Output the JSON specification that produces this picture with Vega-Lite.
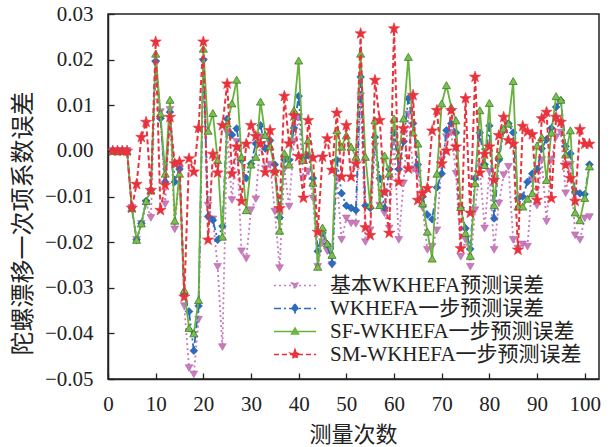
{
"$schema":"https://vega.github.io/schema/vega-lite/v6.json",
"width":491,"height":365,
"autosize":{"type":"none"},
"padding":{"left":108,"top":14,"right":12,"bottom":68},
"background":"white",
"config":{
 "view":{"stroke":"#222","strokeWidth":1.5},
 "axis":{"grid":false,"domainColor":"#222","domainWidth":1.5,"tickColor":"#222","tickWidth":1.3,"tickSize":-6,
  "labelFont":"Liberation Serif","labelFontSize":21,"labelColor":"#222",
  "titleFont":"Noto Sans CJK SC","titleFontWeight":"normal","titleColor":"#222"}
},
"data":{"values":[
{"x":1,"p":0,"b":0,"g":0,"r":0},
{"x":2,"p":0,"b":0,"g":0,"r":0},
{"x":3,"p":0,"b":0,"g":0,"r":0},
{"x":4,"p":0,"b":0,"g":0,"r":0},
{"x":5,"p":-0.0125,"b":-0.0125,"g":-0.0125,"r":-0.0125},
{"x":6,"p":-0.0195,"b":-0.0195,"g":-0.0195,"r":-0.0073},
{"x":7,"p":-0.016,"b":-0.0159,"g":-0.0159,"r":0.003},
{"x":8,"p":-0.0115,"b":-0.011,"g":-0.011,"r":0.0063},
{"x":9,"p":-0.0147,"b":-0.0086,"g":-0.0086,"r":-0.0086},
{"x":10,"p":0.019,"b":0.0197,"g":0.0213,"r":0.0239},
{"x":11,"p":0.0085,"b":0.0071,"g":0.0082,"r":-0.013},
{"x":12,"p":-0.0117,"b":-0.0068,"g":-0.005,"r":-0.0075},
{"x":13,"p":0.009,"b":0.0085,"g":0.0112,"r":0.0074},
{"x":14,"p":-0.0172,"b":-0.0068,"g":-0.0153,"r":-0.0028},
{"x":15,"p":-0.004,"b":-0.004,"g":-0.005,"r":-0.0024},
{"x":16,"p":-0.034,"b":-0.0315,"g":-0.0305,"r":-0.032},
{"x":17,"p":-0.0476,"b":-0.0352,"g":-0.0388,"r":-0.0017},
{"x":18,"p":-0.049,"b":-0.0438,"g":-0.04,"r":-0.0046},
{"x":19,"p":-0.037,"b":-0.034,"g":-0.0327,"r":0.005},
{"x":20,"p":0.0195,"b":0.02,"g":0.0224,"r":0.0239},
{"x":21,"p":-0.012,"b":-0.0144,"g":0.0044,"r":-0.0195},
{"x":22,"p":-0.015,"b":-0.0152,"g":0.0083,"r":-0.0007},
{"x":23,"p":-0.0254,"b":-0.0195,"g":-0.002,"r":-0.0048},
{"x":24,"p":-0.043,"b":-0.0165,"g":-0.0188,"r":0.0056},
{"x":25,"p":0.004,"b":0.007,"g":0.006,"r":0.0147},
{"x":26,"p":-0.0108,"b":0.0035,"g":0.0104,"r":-0.005},
{"x":27,"p":0.002,"b":0.0049,"g":0.0156,"r":0.0009},
{"x":28,"p":-0.022,"b":-0.002,"g":-0.0013,"r":-0.011},
{"x":29,"p":-0.0236,"b":-0.006,"g":-0.013,"r":0.0015},
{"x":30,"p":-0.013,"b":-0.0028,"g":-0.003,"r":0.0056},
{"x":31,"p":-0.0106,"b":0.0016,"g":-0.0013,"r":0.0032},
{"x":32,"p":0.003,"b":0.0056,"g":0.0108,"r":0.0016},
{"x":33,"p":-0.004,"b":0.0005,"g":0.0035,"r":-0.0047},
{"x":34,"p":-0.003,"b":0.0023,"g":0.001,"r":0.0045},
{"x":35,"p":-0.0133,"b":-0.003,"g":-0.004,"r":-0.0046},
{"x":36,"p":-0.0257,"b":-0.0146,"g":-0.0175,"r":-0.0126},
{"x":37,"p":-0.004,"b":-0.002,"g":-0.0005,"r":0.012},
{"x":38,"p":-0.0122,"b":-0.002,"g":-0.003,"r":0.0016},
{"x":39,"p":0.002,"b":0.005,"g":0.0089,"r":0.0077},
{"x":40,"p":0.0074,"b":0.012,"g":0.0198,"r":-0.0012},
{"x":41,"p":-0.006,"b":-0.0015,"g":-0.002,"r":-0.0103},
{"x":42,"p":-0.0045,"b":-0.001,"g":0.0023,"r":0.0067},
{"x":43,"p":-0.0104,"b":-0.006,"g":-0.007,"r":-0.0015},
{"x":44,"p":-0.0254,"b":-0.022,"g":-0.0254,"r":-0.0178},
{"x":45,"p":-0.02,"b":-0.018,"g":-0.0168,"r":-0.0013},
{"x":46,"p":-0.022,"b":-0.0205,"g":-0.0203,"r":0.0027},
{"x":47,"p":-0.025,"b":-0.0247,"g":-0.0228,"r":-0.0042},
{"x":48,"p":-0.006,"b":-0.002,"g":0.0045,"r":0.0083},
{"x":49,"p":-0.0195,"b":-0.0093,"g":0.0009,"r":-0.0057},
{"x":50,"p":-0.0148,"b":-0.012,"g":0.0034,"r":0.0056},
{"x":51,"p":-0.0159,"b":-0.0125,"g":0.0009,"r":-0.0057},
{"x":52,"p":-0.016,"b":-0.013,"g":-0.0013,"r":-0.0028},
{"x":53,"p":0.012,"b":0.0162,"g":0.0213,"r":0.0257},
{"x":54,"p":-0.02,"b":-0.012,"g":-0.0013,"r":-0.0168},
{"x":55,"p":-0.0174,"b":-0.0125,"g":-0.0119,"r":-0.0185},
{"x":56,"p":0.001,"b":0.003,"g":0.0067,"r":0.0155},
{"x":57,"p":-0.012,"b":-0.006,"g":-0.0119,"r":0.0067},
{"x":58,"p":-0.0137,"b":-0.0125,"g":-0.001,"r":-0.009},
{"x":59,"p":-0.017,"b":-0.004,"g":-0.005,"r":-0.018},
{"x":60,"p":0.002,"b":0.004,"g":0.0071,"r":0.0268},
{"x":61,"p":-0.0195,"b":-0.004,"g":-0.001,"r":-0.0068},
{"x":62,"p":-0.0071,"b":0.002,"g":0.0071,"r":0.0049},
{"x":63,"p":0.008,"b":0.0115,"g":0.0206,"r":-0.0039},
{"x":64,"p":-0.004,"b":0.006,"g":0.004,"r":0.0122},
{"x":65,"p":-0.005,"b":-0.003,"g":0.0016,"r":-0.0108},
{"x":66,"p":-0.0125,"b":-0.01,"g":-0.0115,"r":-0.0093},
{"x":67,"p":-0.0217,"b":-0.014,"g":-0.0177,"r":-0.0082},
{"x":68,"p":-0.021,"b":-0.015,"g":-0.0236,"r":0.0044},
{"x":69,"p":-0.0174,"b":-0.008,"g":-0.005,"r":0.0089},
{"x":70,"p":-0.002,"b":-0.005,"g":0.0104,"r":-0.0028},
{"x":71,"p":0.003,"b":0.0045,"g":0.0144,"r":0.0},
{"x":72,"p":0.004,"b":0.006,"g":0.0096,"r":0.0089},
{"x":73,"p":-0.005,"b":0.004,"g":0.0067,"r":0.0009},
{"x":74,"p":-0.0232,"b":-0.0125,"g":-0.0123,"r":-0.0214},
{"x":75,"p":-0.0195,"b":-0.017,"g":-0.018,"r":0.0115},
{"x":76,"p":-0.0254,"b":-0.0215,"g":-0.023,"r":-0.0136},
{"x":77,"p":-0.013,"b":-0.006,"g":-0.0071,"r":0.0162},
{"x":78,"p":-0.0035,"b":0.004,"g":0.0089,"r":-0.0048},
{"x":79,"p":-0.017,"b":-0.003,"g":-0.0031,"r":-0.0007},
{"x":80,"p":-0.0046,"b":0.0055,"g":0.0105,"r":0.0009},
{"x":81,"p":-0.0217,"b":-0.0148,"g":-0.0119,"r":-0.0064},
{"x":82,"p":-0.0115,"b":-0.002,"g":-0.001,"r":0.0034},
{"x":83,"p":-0.0053,"b":0.0045,"g":0.0049,"r":0.0074},
{"x":84,"p":-0.0035,"b":0.006,"g":0.006,"r":0.0023},
{"x":85,"p":-0.0195,"b":0.004,"g":0.0153,"r":0.0015},
{"x":86,"p":-0.0214,"b":-0.0104,"g":-0.0122,"r":-0.0217},
{"x":87,"p":-0.0205,"b":-0.01,"g":-0.0122,"r":0.0054},
{"x":88,"p":-0.021,"b":-0.0068,"g":-0.0105,"r":0.0042},
{"x":89,"p":-0.0064,"b":-0.005,"g":-0.0093,"r":0.0036},
{"x":90,"p":-0.012,"b":-0.004,"g":0.0012,"r":-0.0108},
{"x":91,"p":-0.002,"b":0.0005,"g":0.003,"r":0.0071},
{"x":92,"p":-0.0155,"b":0.0025,"g":-0.0064,"r":0.0085},
{"x":93,"p":-0.002,"b":0.005,"g":0.004,"r":-0.0104},
{"x":94,"p":0.003,"b":0.0096,"g":0.012,"r":0.0074},
{"x":95,"p":0.004,"b":0.011,"g":0.0112,"r":0.0063},
{"x":96,"p":-0.0093,"b":0.001,"g":-0.0008,"r":-0.0031},
{"x":97,"p":-0.003,"b":-0.0006,"g":0.0045,"r":-0.006},
{"x":98,"p":-0.0185,"b":-0.009,"g":-0.0135,"r":-0.011},
{"x":99,"p":-0.0195,"b":-0.0093,"g":-0.0152,"r":0.0047},
{"x":100,"p":-0.0148,"b":-0.0095,"g":-0.0103,"r":0.0015},
{"x":101,"p":-0.0145,"b":-0.003,"g":-0.0034,"r":0.0015}
]},
"transform":[{"fold":["p","b","g","r"],"as":["s","v"]}],
"encoding":{
 "x":{"field":"x","type":"quantitative","scale":{"domain":[0,103],"nice":false,"zero":false},
  "axis":{"values":[0,10,20,30,40,50,60,70,80,90,100],"title":"测量次数","titleFontSize":22,"labelPadding":20,
   "titleX":245,"titleY":62,"titleBaseline":"alphabetic","titleAlign":"center","labelFlush":false}},
 "y":{"field":"v","type":"quantitative","scale":{"domain":[-0.05,0.03],"nice":false,"zero":false},
  "axis":{"values":[-0.05,-0.04,-0.03,-0.02,-0.01,0,0.01,0.02,0.03],"format":".2f","title":"陀螺漂移一次项系数误差","titleFontSize":24,
   "labelPadding":21,"titleX":-85,"titleY":209,"titleAngle":-90,"titleBaseline":"middle","titleAlign":"center"}}
},
"layer":[
 {"transform":[{"filter":{"field":"s","equal":"p"}}],"mark":{"type":"line","color":"#c87bbd","strokeWidth":1.8,"strokeDash":[2,3]},"encoding":{}},
 {"transform":[{"filter":{"field":"s","equal":"p"}}],"mark":{"type":"point","shape":"triangle-down","filled":true,"opacity":1,"fill":"#c87bbd","stroke":"#b766a9","strokeWidth":0.6,"size":60},"encoding":{}},
 {"transform":[{"filter":{"field":"s","equal":"b"}}],"mark":{"type":"line","color":"#2a6cc0","strokeWidth":1.8,"strokeDash":[7,3,2,3]},"encoding":{}},
 {"transform":[{"filter":{"field":"s","equal":"b"}}],"mark":{"type":"point","shape":"diamond","filled":true,"opacity":1,"fill":"#2a6cc0","stroke":"#1f5aa6","strokeWidth":0.6,"size":60},"encoding":{}},
 {"transform":[{"filter":{"field":"s","equal":"g"}}],"mark":{"type":"line","color":"#6ab23e","strokeWidth":1.8},"encoding":{}},
 {"transform":[{"filter":{"field":"s","equal":"g"}}],"mark":{"type":"point","shape":"triangle-up","filled":true,"opacity":1,"fill":"#7cbf4e","stroke":"#3b7d25","strokeWidth":0.8,"size":65},"encoding":{}},
 {"transform":[{"filter":{"field":"s","equal":"r"}}],"mark":{"type":"line","color":"#e8323c","strokeWidth":2,"strokeDash":[5,3]},"encoding":{}},
 {"transform":[{"filter":{"field":"s","equal":"r"}}],"mark":{"type":"point","shape":"M0,-1L0.2351,-0.3236L0.9511,-0.309L0.3804,0.1236L0.5878,0.809L0,0.4L-0.5878,0.809L-0.3804,0.1236L-0.9511,-0.309L-0.2351,-0.3236Z","filled":true,"opacity":1,"fill":"#e8323c","stroke":"#e8323c","strokeWidth":0.6,"size":140},"encoding":{}},
 {"transform":[{"filter":{"field":"x","gt":9999}}],
  "mark":{"type":"point","filled":true,"opacity":1,"strokeWidth":1.4},
  "encoding":{
   "fill":{"field":"s","type":"nominal","scale":{"domain":["p","b","g","r"],"range":["#c87bbd","#2a6cc0","#7cbf4e","#e8323c"]},
    "legend":{"orient":"none","legendX":165,"legendY":261,"title":null,"padding":0,
     "labelFont":"Liberation Serif, Noto Sans CJK SC","labelFontSize":21,"labelColor":"#222","labelLimit":500,
     "symbolSize":1764,"symbolStrokeWidth":1.4,"labelOffset":13,"rowPadding":1,"clipHeight":21,
     "labelExpr":"datum.value == 'p' ? '基本WKHEFA预测误差' : datum.value == 'b' ? 'WKHEFA一步预测误差' : datum.value == 'g' ? 'SF-WKHEFA一步预测误差' : 'SM-WKHEFA一步预测误差'"}},
   "stroke":{"field":"s","type":"nominal","scale":{"domain":["p","b","g","r"],"range":["#c87bbd","#2a6cc0","#6ab23e","#e8323c"]}},
   "strokeDash":{"field":"s","type":"nominal","scale":{"domain":["p","b","g","r"],"range":[[2,3],[7,3,2,3],[1,0],[5,3]]}},
   "shape":{"field":"s","type":"nominal","scale":{"domain":["p","b","g","r"],"range":[
    "M-1,0H1M-0.17,-0.12H0.17L0,0.17Z",
    "M-1,0H1M0,-0.22L0.15,0L0,0.22L-0.15,0Z",
    "M-1,0H1M0,-0.17L0.17,0.12H-0.17Z",
    "M-1,0H1M0,-0.24L0.0564,-0.0777L0.2283,-0.0742L0.0913,0.0297L0.1411,0.1942L0,0.096L-0.1411,0.1942L-0.0913,0.0297L-0.2283,-0.0742L-0.0564,-0.0777Z"]}}
  }}
]
}
